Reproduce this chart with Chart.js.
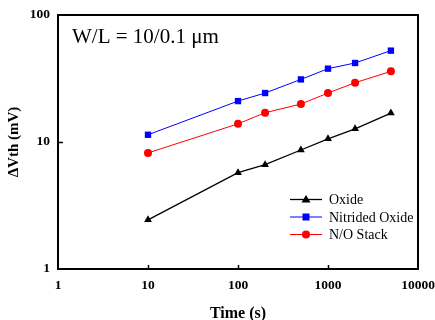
<!DOCTYPE html>
<html><head><meta charset="utf-8">
<script src="https://cdn.jsdelivr.net/npm/chart.js@4"></script>
<style>html,body{margin:0;padding:0;background:#fff}#wrap{width:435px;height:320px}</style>
</head><body><div id="wrap"><canvas id="c" width="435" height="320"></canvas></div>
<script>
const times = [10, 100, 200, 500, 1000, 2000, 5000];
const oxide = [2.44, 5.73, 6.63, 8.65, 10.6, 12.7, 16.9];
const nitrided = [11.4, 21.0, 24.3, 31.1, 37.8, 41.9, 52.4];
const noStack = [8.2, 13.9, 17.0, 19.9, 24.3, 29.3, 36.0];
const seriesNames = ['Oxide', 'Nitrided Oxide', 'N/O Stack'];
const xTicks = [1, 10, 100, 1000, 10000];
const yTicks = [1, 10, 100];
const annotationText = 'W/L = 10/0.1 \u03bcm';
const xTitle = 'Time (s)';
const yTitle = '\u0394Vth (mV)';

const SERIF = "'Liberation Serif', 'DejaVu Serif', serif";
const pts = arr => times.map((t, i) => ({x: t, y: arr[i]}));

const framePlugin = {
  id: 'frame',
  afterDatasetsDraw(chart) {
    const {ctx, chartArea: a, scales} = chart;
    ctx.save();
    ctx.strokeStyle = '#000';
    ctx.lineWidth = 2;
    ctx.strokeRect(a.left, a.top, a.right - a.left, a.bottom - a.top);
    ctx.lineWidth = 1.5;
    ctx.beginPath();
    xTicks.forEach(v => {
      if (v === xTicks[0] || v === xTicks[xTicks.length - 1]) return;
      const px = Math.round(scales.x.getPixelForValue(v)) + 0.5;
      ctx.moveTo(px, a.bottom); ctx.lineTo(px, a.bottom - 4);
    });
    yTicks.forEach(v => {
      if (v === yTicks[0] || v === yTicks[yTicks.length - 1]) return;
      const py = Math.round(scales.y.getPixelForValue(v)) + 0.5;
      ctx.moveTo(a.left, py); ctx.lineTo(a.left + 5, py);
    });
    ctx.stroke();
    // annotation
    ctx.fillStyle = '#000';
    ctx.font = "21px " + SERIF;
    ctx.textBaseline = 'alphabetic';
    ctx.fillText(annotationText, a.left + 14, a.top + 28);
    // legend
    ctx.font = "14px " + SERIF;
    ctx.textBaseline = 'middle';
    const lx0 = 290, lx1 = 322, tx = 329;
    const rows = [199.5, 217, 234.5];
    chart.data.datasets.forEach((ds, i) => {
      const y = rows[i];
      ctx.strokeStyle = ds.borderColor;
      ctx.lineWidth = ds.borderWidth;
      ctx.beginPath(); ctx.moveTo(lx0, y); ctx.lineTo(lx1, y); ctx.stroke();
      const cx = (lx0 + lx1) / 2;
      ctx.fillStyle = ds.pointBackgroundColor;
      ctx.beginPath();
      if (ds.pointStyle === 'triangle') {
        ctx.moveTo(cx, y - 4.5); ctx.lineTo(cx + 4.5, y + 3); ctx.lineTo(cx - 4.5, y + 3); ctx.closePath();
      } else if (ds.pointStyle === 'rect') {
        ctx.rect(cx - 3.5, y - 3.5, 7, 7);
      } else {
        ctx.arc(cx, y, 4, 0, Math.PI * 2);
      }
      ctx.fill();
      ctx.fillStyle = '#000';
      ctx.fillText(ds.label, tx, y + 1);
    });
    ctx.restore();
  }
};

new Chart(document.getElementById('c'), {
  type: 'line',
  data: {
    datasets: [
      {label: seriesNames[0], data: pts(oxide), borderColor: '#000', backgroundColor: '#000', pointBackgroundColor: '#000', pointBorderColor: '#000', borderWidth: 1.3, pointStyle: 'triangle', pointRadius: 4.5, pointBorderWidth: 0},
      {label: seriesNames[1], data: pts(nitrided), borderColor: '#0000ff', backgroundColor: '#0000ff', pointBackgroundColor: '#0000ff', pointBorderColor: '#0000ff', borderWidth: 1, pointStyle: 'rect', pointRadius: 4.5, pointBorderWidth: 0},
      {label: seriesNames[2], data: pts(noStack), borderColor: '#ff0000', backgroundColor: '#ff0000', pointBackgroundColor: '#ff0000', pointBorderColor: '#ff0000', borderWidth: 1, pointStyle: 'circle', pointRadius: 4, pointBorderWidth: 0}
    ]
  },
  options: {
    responsive: false,
    animation: false,
    devicePixelRatio: 1,
    layout: {padding: {left: 0, right: 17, top: 15, bottom: 0}},
    plugins: {legend: {display: false}, tooltip: {enabled: false}},
    scales: {
      x: {
        type: 'logarithmic', min: 1, max: 10000,
        afterBuildTicks: s => { s.ticks = xTicks.map(v => ({value: v})); },
        afterFit: s => { s.height = 320 - 269; s.paddingLeft = 0; s.paddingRight = 0; },
        grid: {display: false, drawTicks: false},
        border: {display: false},
        ticks: {color: '#000', font: {family: SERIF, size: 13.5, weight: 'bold'}, padding: 8, maxRotation: 0, autoSkip: false, callback: v => String(v)},
        title: {display: true, text: xTitle, color: '#000', font: {family: SERIF, size: 16, weight: 'bold'}, padding: {top: 8, bottom: -3}}
      },
      y: {
        type: 'logarithmic', min: 1, max: 100,
        afterBuildTicks: s => { s.ticks = yTicks.map(v => ({value: v})); },
        afterFit: s => { s.width = 58; s.paddingTop = 0; s.paddingBottom = 0; },
        grid: {display: false, drawTicks: false},
        border: {display: false},
        ticks: {color: '#000', font: {family: SERIF, size: 13.5, weight: 'bold'}, padding: 8, autoSkip: false, callback: v => String(v)},
        title: {display: true, text: yTitle, color: '#000', font: {family: SERIF, size: 15, weight: 'bold'}, padding: {top: 5, bottom: 0}}
      }
    }
  },
  plugins: [framePlugin]
});
</script></body></html>
